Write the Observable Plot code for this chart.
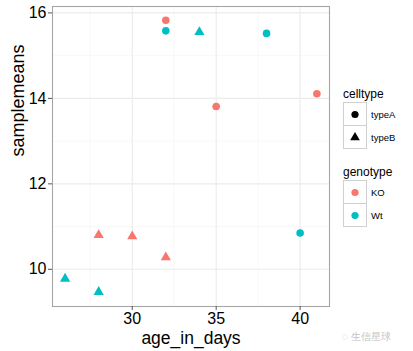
<!DOCTYPE html>
<html>
<head>
<meta charset="utf-8">
<script src="https://cdn.jsdelivr.net/npm/d3@7"></script>
<script src="https://cdn.jsdelivr.net/npm/@observablehq/plot@0.6"></script>
<style>
  html, body { margin: 0; padding: 0; background: #fff; }
  #wrap { position: relative; width: 413px; height: 351px; font-family: "Liberation Sans", Arial, sans-serif; }
  #legend { position: absolute; left: 343px; top: 86px; color: #000; }
  .ltitle { font-size: 12px; height: 17px; line-height: 17px; }
  .lrow { display: flex; align-items: center; height: 23px; }
  .lkey { width: 22px; height: 22px; border: 1px solid #d0d0d0; background: #fff; margin-top: -1px; }
  .lkey svg { display: block; }
  .llab { font-size: 9.5px; margin-left: 4px; }
  .gap { height: 15px; }
  #wm { position: absolute; left: 342px; top: 330px; font-size: 10px; color: #c4c4c4; white-space: nowrap; }
</style>
</head>
<body>
<div id="wrap"><div id="chart"></div><div id="legend"></div><div id="wm">◌ 生信星球</div></div>
<script>
// Data
const age_in_days = [32, 32, 34, 38, 35, 41, 28, 30, 32, 40, 26, 28];
const samplemeans = [15.83, 15.58, 15.55, 15.52, 13.81, 14.11, 10.80, 10.77, 10.28, 10.85, 9.78, 9.47];
const celltype   = ["typeA","typeA","typeB","typeA","typeA","typeA","typeB","typeB","typeB","typeA","typeB","typeB"];
const genotype   = ["KO","Wt","Wt","Wt","KO","KO","KO","KO","KO","Wt","Wt","Wt"];

const cellLevels = ["typeA", "typeB"];
const cellSymbols = ["circle", "triangle"];
const genoLevels = ["KO", "Wt"];
const genoColors = ["#F8766D", "#00BFC4"];

const xMajor = [30, 35, 40];
const xMinor = [27.5, 32.5, 37.5];
const yMajor = [10, 12, 14, 16];
const yMinor = [11, 13, 15];

const data = age_in_days.map((a, i) => ({age: a, mean: samplemeans[i], celltype: celltype[i], genotype: genotype[i]}));

const chart = Plot.plot({
  width: 413,
  height: 351,
  marginLeft: 52,
  marginRight: 84,
  marginTop: 6,
  marginBottom: 45,
  x: {domain: [25.25, 41.75]},
  y: {domain: [9.13, 16.15]},
  color: {domain: genoLevels, range: genoColors},
  symbol: {domain: cellLevels, range: cellSymbols},
  style: {fontFamily: "'Liberation Sans', Arial, sans-serif", fontSize: "16px", color: "#000", background: "#fff", overflow: "visible"},
  marks: [
    Plot.gridX(xMinor, {stroke: "#f3f3f3", strokeOpacity: 1, strokeWidth: 0.6}),
    Plot.gridY(yMinor, {stroke: "#f3f3f3", strokeOpacity: 1, strokeWidth: 0.6}),
    Plot.gridX(xMajor, {stroke: "#ebebeb", strokeOpacity: 1, strokeWidth: 1.1}),
    Plot.gridY(yMajor, {stroke: "#ebebeb", strokeOpacity: 1, strokeWidth: 1.1}),
    Plot.frame({stroke: "#a6a6a6", strokeWidth: 1.1}),
    Plot.axisX(xMajor, {tickSize: 4, tickPadding: 2, stroke: "#555", label: null, fontSize: 16, color: "#000"}),
    Plot.axisY(yMajor, {tickSize: 4, tickPadding: 2, stroke: "#555", label: null, fontSize: 16, color: "#000"}),
    Plot.text(["age_in_days"], {frameAnchor: "bottom", dy: 37, fontSize: 17.5, fill: "#000"}),
    Plot.text(["samplemeans"], {frameAnchor: "left", dx: -34, rotate: -90, fontSize: 18, fill: "#000"}),
    Plot.dot(data, {x: "age", y: "mean", fill: "genotype", symbol: "celltype", r: 3.8, stroke: "none"})
  ]
});
document.getElementById("chart").appendChild(chart);

// Legend (HTML)
const legend = document.getElementById("legend");
function keySvg(symbol, color) {
  const s = d3.create("svg").attr("width", 22).attr("height", 22);
  s.append("path")
    .attr("transform", "translate(11,11.5)")
    .attr("d", d3.symbol(symbol === "circle" ? d3.symbolCircle : d3.symbolTriangle, Math.PI * 3.6 * 3.6)())
    .attr("fill", color);
  return s.node();
}
function addGroup(title, levels, symFn, colFn) {
  const t = document.createElement("div");
  t.className = "ltitle"; t.textContent = title;
  legend.appendChild(t);
  levels.forEach((lv, i) => {
    const row = document.createElement("div"); row.className = "lrow";
    const k = document.createElement("div"); k.className = "lkey";
    k.appendChild(keySvg(symFn(i), colFn(i)));
    const l = document.createElement("div"); l.className = "llab"; l.textContent = lv;
    row.appendChild(k); row.appendChild(l);
    legend.appendChild(row);
  });
}
addGroup("celltype", cellLevels, i => cellSymbols[i], i => "#000");
const g = document.createElement("div"); g.className = "gap"; legend.appendChild(g);
addGroup("genotype", genoLevels, i => "circle", i => genoColors[i]);
</script>
</body>
</html>
